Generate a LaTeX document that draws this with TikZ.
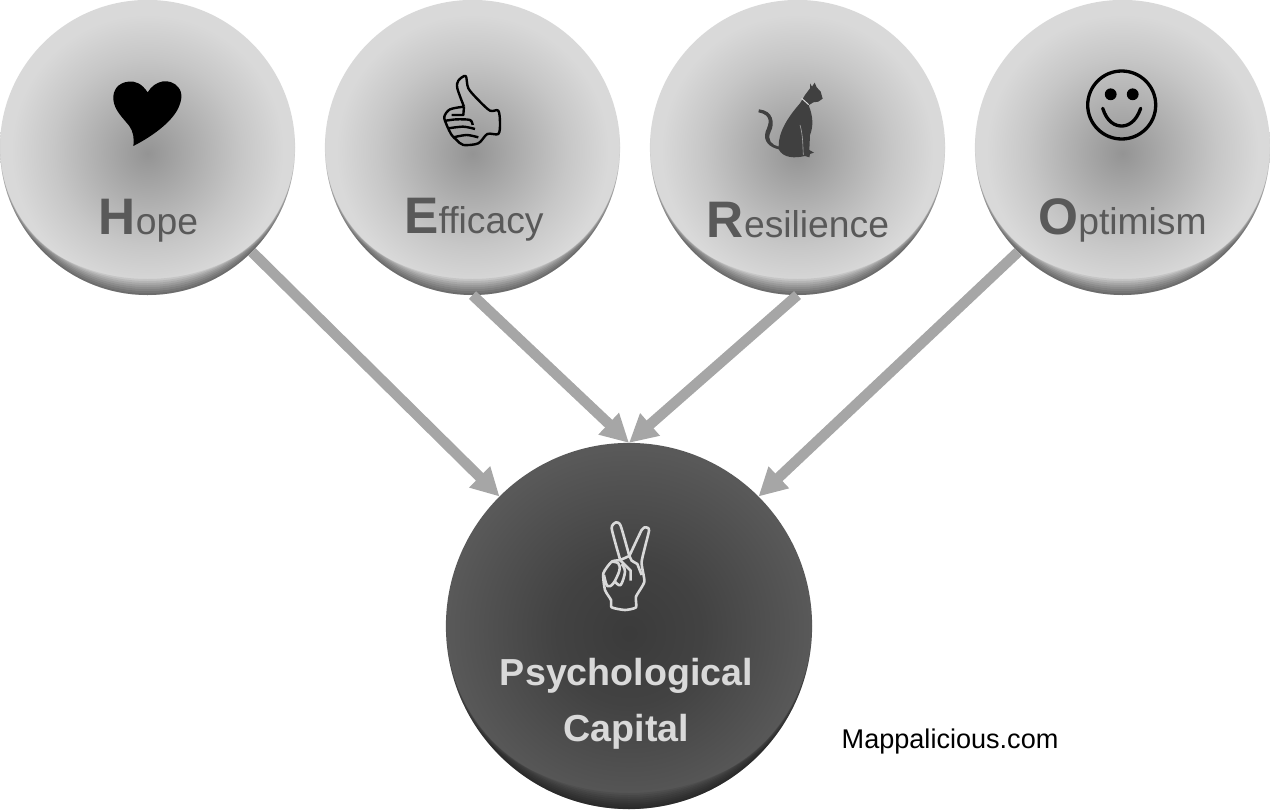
\documentclass[tikz,border=0pt]{standalone}
\usepackage{fontspec}
\usepackage{tikz}
\usetikzlibrary{arrows.meta}
\setmainfont{Liberation Sans}
\pgfdeclareradialshading{lightball}{\pgfpoint{0bp}{-1bp}}{gray(0bp)=(0.58);gray(8bp)=(0.68);gray(16bp)=(0.78);gray(23bp)=(0.85);gray(50bp)=(0.85)}
\pgfdeclareradialshading{darkball}{\pgfpoint{0bp}{-1bp}}{gray(0bp)=(0.23);gray(10bp)=(0.26);gray(20bp)=(0.32);gray(25bp)=(0.35);gray(50bp)=(0.35)}
\newcommand{\firstletter}[1]{{\fontsize{14.6}{16}\selectfont\bfseries #1}}
\tikzset{
	ball/.style={circle,inner sep=0pt,outer sep=0pt,minimum size=2.95cm,shading=lightball},
	capball/.style={circle,inner sep=0pt,outer sep=0pt,minimum size=3.66cm,shading=darkball},
	word/.style={anchor=base,inner sep=0pt,text=black!65,font=\fontsize{10.6}{12}\selectfont},
	link/.style={line width=.105cm,black!35,-{Triangle[length=.28cm,width=.28cm]}}
}
\begin{document}
\begin{tikzpicture}[x=.01cm,y=-.01cm]
	\useasboundingbox (0,0) rectangle (1270,809);
	\node[ball] (hope) at (147.5,147.5) {};
	\node[ball] (efficacy) at (472.5,147.5) {};
	\node[ball] (resilience) at (797.5,147.5) {};
	\node[ball] (optimism) at (1122.5,147.5) {};
	\node[capball] (capital) at (629,626) {};
	% dark rim along the lower edge
	\foreach \c/\r in {hope/147.5,efficacy/147.5,resilience/147.5,optimism/147.5,capital/183}
		\foreach \s/\e in {2/0,4.4/.4,7.5/1.5,11.4/3.4,16.7/6.7,24/12,35/21,53/37} {
			\begin{scope}
				\clip (\c) circle[radius=\r];
				\fill[black,opacity=.08,even odd rule] (\c) circle[radius=\r+100] ([yshift=\s*.01cm]\c) circle[radius=\r+\e];
			\end{scope}
		}
	\draw[link] (hope.-45) -- (capital.135);
	\draw[link] (efficacy.south) -- (capital.north);
	\draw[link] (resilience.south) -- (capital.north);
	\draw[link] (optimism.-135) -- (capital.45);
	\node[word] (hopetext) at (148.5,234) {\firstletter{H}ope};
	\node[word] (efficacytext) at (474,233) {\firstletter{E}fficacy};
	\node[word] (resiliencetext) at (798,237) {\firstletter{R}esilience};
	\node[word] (optimismtext) at (1122.5,234) {\firstletter{O}ptimism};
	\node[anchor=base,inner sep=0pt,align=center,text=black!15,font=\fontsize{10.7}{15.9}\selectfont\bfseries] (captext) at (626.5,741) {Psychological\\Capital};
	\node[anchor=base west,inner sep=0pt,font=\fontsize{7.7}{9}\selectfont] (site) at (841,748) {Mappalicious.com};
	% heart
	\begin{scope}[shift={(80,60)},scale=.3333]
		\fill[black] (203,97) .. controls (185,70) and (165,62) .. (145,65) .. controls (115,68) and (98,90) .. (100,118) .. controls (102,150) and (130,175) .. (148,198) .. controls (160,215) and (163,235) .. (160,258) .. controls (215,230) and (270,190) .. (292,150) .. controls (305,125) and (310,100) .. (295,82) .. controls (270,52) and (225,60) .. (203,97) -- cycle;
	\end{scope}
	% thumb
	\begin{scope}[shift={(400,60)},scale=.3333,line width=.024cm,line join=round]
		\draw plot[smooth,tension=.5] coordinates {(192,140) (172,85) (175,62) (197,48) (205,85) (235,120) (270,152) (295,152) (300,190) (295,222) (262,222) (235,250) (190,255) (170,240) (155,225) (140,195) (133,170) (150,148) (192,140)};
		\draw plot[smooth,tension=.5] coordinates {(138,182) (170,178) (210,180) (218,195)};
		\draw plot[smooth,tension=.5] coordinates {(145,205) (190,200) (225,207)};
		\draw plot[smooth,tension=.5] coordinates {(160,232) (200,225) (235,232)};
		\draw (192,140) -- (190,165) -- (155,165);
	\end{scope}
	% cat
	\begin{scope}[shift={(750,70)},scale=.3333]
		\fill[black!75] (180,40) -- (186,50) -- (194,38) -- (200,52) -- (212,65) -- (218,86) -- (205,95) -- (190,97) -- (176,106) .. controls (190,140) and (190,170) .. (180,195) -- (178,240) -- (192,248) -- (180,252) -- (178,262) -- (165,258) .. controls (135,265) and (100,265) .. (86,238) .. controls (60,232) and (38,215) .. (47,185) .. controls (55,165) and (70,135) .. (25,127) -- (27,118) .. controls (70,122) and (75,160) .. (62,185) .. controls (50,210) and (65,225) .. (86,230) .. controls (85,185) and (115,140) .. (150,100) -- (165,75) -- (180,55) -- cycle;
		\draw[black!15,line width=.01cm] (155,85) -- (176,104);
		\draw[black!35,line width=.006cm] (150,165) .. controls (160,200) and (158,230) .. (160,255);
	\end{scope}
	% smiley
	\draw[black,line width=.033cm] (1121.7,105) circle[radius=34];
	\fill[black] (1110.7,94.3) circle[radius=5.9];
	\fill[black] (1132.7,94.3) circle[radius=5.9];
	\draw[black,line width=.033cm,line cap=round] (1102.7,108.3) .. controls (1107,122) and (1115,126) .. (1121.7,126) .. controls (1128,126) and (1136,122) .. (1140.7,108.3);
	% peace hand
	\begin{scope}[shift={(530,500)},scale=.3333,line width=.026cm,black!15,line join=round]
		\draw plot[smooth,tension=.35] coordinates {(270,178) (245,85) (258,67) (272,77) (298,168)};
		\draw plot[smooth,tension=.35] coordinates {(298,168) (335,90) (347,82) (357,92) (335,185) (343,245) (318,290) (318,322) (285,330) (245,322) (243,300) (225,270) (220,220) (245,185) (270,180) (298,168)};
		\draw plot[smooth,tension=.6] coordinates {(222,225) (232,258) (250,250) (268,212) (265,190) (245,185)};
		\draw plot[smooth,tension=.6] coordinates {(255,245) (272,255) (285,215) (275,192)};
		\draw (270,180) -- (302,212) -- (302,242);
		\draw (298,168) -- (305,182) -- (322,192) -- (335,225);
	\end{scope}
\end{tikzpicture}
\end{document}
